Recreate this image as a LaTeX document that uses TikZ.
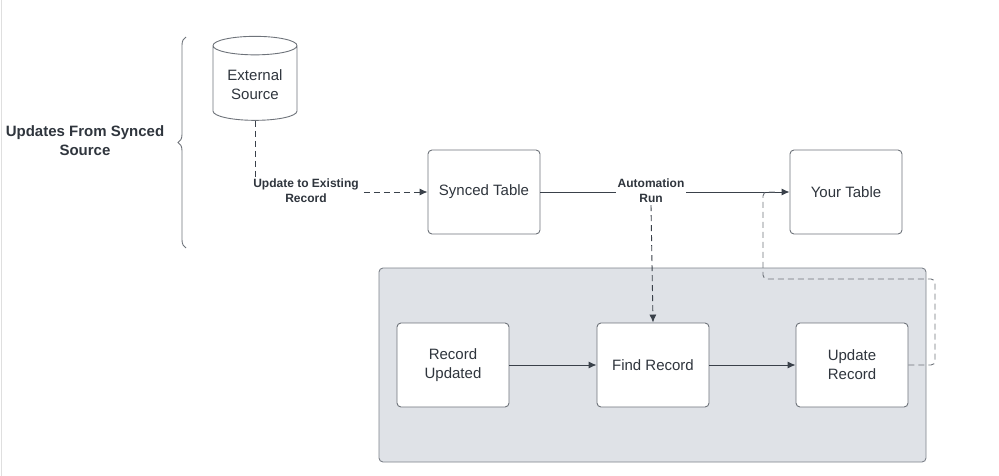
\documentclass[tikz,border=0pt]{standalone}
\usepackage{fontspec}
\setmainfont{Liberation Sans}
\usetikzlibrary{arrows.meta,positioning,shapes.geometric,calc,decorations.pathreplacing}
\definecolor{LineGray}{HTML}{3A414A}
\definecolor{BoxGray}{HTML}{6E737A}
\definecolor{PanelFill}{HTML}{DFE2E7}
\definecolor{PanelLine}{HTML}{7D828A}
\definecolor{DarkText}{HTML}{2F353D}
\tikzset{
  box/.style={rounded corners=4pt, draw=BoxGray, fill=white, line width=0.9pt, minimum width=112pt, minimum height=84pt, inner sep=2pt, align=center, text=DarkText, font=\fontsize{15}{19}\selectfont},
  dbase/.style={cylinder, shape border rotate=90, aspect=0.3, draw=BoxGray, fill=white, line width=0.9pt, minimum width=84pt, minimum height=84pt, align=center, text=DarkText, font=\fontsize{15}{19}\selectfont},
  lbl/.style={fill=white, inner sep=2pt, align=center, text=DarkText, font=\bfseries\fontsize{12}{15}\selectfont},
  arr/.style={-{Latex[length=8pt,width=7pt]}, line width=0.9pt, draw=LineGray},
  darr/.style={arr, dash pattern=on 6pt off 4pt}
}
\begin{document}
\begin{tikzpicture}[x=1pt,y=-1pt]
\useasboundingbox (0,0) rectangle (999,476);
\draw[gray!25] (1,0) -- (1,476);

% group label and brace
\node[text=DarkText, align=center, font=\bfseries\fontsize{15}{19}\selectfont] (grouplbl) at (85,141) {Updates From Synced\\Source};
\draw[BoxGray, line width=0.9pt, decorate, decoration={brace, amplitude=8pt}] (186,248) -- (186,37);

% top row
\node[dbase] (ext) at (255,85) {External\\Source};
\node[box] (synced) at (484,192) {Synced Table};
\node[box] (your) at (846,192) {Your Table};

% automation panel
\node[rounded corners=4pt, draw=PanelLine, fill=PanelFill, line width=0.9pt, minimum width=547pt, minimum height=194pt] (panel) at (652.5,365) {};
\node[box] (recupd) at (453,365) {Record\\Updated};
\node[box] (find) at (653,365) {Find Record};
\node[box] (updrec) at (852,365) {Update\\Record};

% connectors
\draw[darr] (ext.south) |- (synced.west);
\node[lbl] (updlbl) at (306,191) {Update to Existing\\Record};
\draw[arr] (synced.east) -- (your.west);
\node[lbl] (autolbl) at (651,191) {Automation\\Run};
\draw[darr] (autolbl.south) -- (find.north);
\draw[arr] (recupd) -- (find);
\draw[arr] (find) -- (updrec);
\coordinate (r1) at (935,365);
\coordinate (r2) at (935,279);
\coordinate (r3) at (763,279);
\coordinate (r4) at (763,192);
\draw[BoxGray, line width=0.9pt, dash pattern=on 6pt off 4pt, rounded corners=4pt] (updrec.east) -- (r1) -- (r2) -- (r3) -- (r4) -- ($(r4)+(14,0)$);
\end{tikzpicture}
\end{document}
